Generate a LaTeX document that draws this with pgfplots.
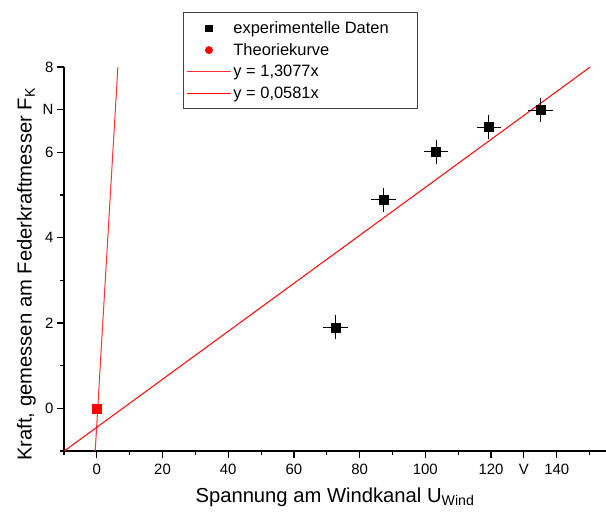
\documentclass[border=0pt]{standalone}
\usepackage{pgfplots}
\pgfplotsset{compat=1.18}
\usepackage{fontspec}
\setmainfont{Liberation Sans}

\begin{document}
\begin{tikzpicture}
  \begin{axis}[
      scale only axis,
      width=542bp, height=384bp,
      xmin=-10, xmax=155,
      ymin=-1, ymax=8,
      axis x line*=bottom,
      axis y line*=left,
      axis line style={-, line width=1.2bp},
      tick align=outside,
      tick style={black, line width=1.2bp},
      major tick length=7bp,
      minor tick length=4bp,
      xtick={0,20,40,60,80,100,120,130,140},
      xticklabels={0,20,40,60,80,100,120,V,140},
      minor xtick={-10,10,30,50,70,90,110,150},
      ytick={0,2,4,6,7,8},
      yticklabels={0,2,4,6,N,8},
      minor ytick={-1,1,3,5},
      /pgf/number format/assume math mode=true,
      tick label style={font=\fontsize{15pt}{18pt}\selectfont},
      xticklabel style={yshift=-3bp},
      xlabel={Spannung am Windkanal U\textsubscript{Wind}},
      ylabel={Kraft, gemessen am Federkraftmesser F\textsubscript{K}},
      label style={font=\fontsize{20.3pt}{24pt}\selectfont},
      xlabel style={yshift=-6bp},
      ylabel style={at={(ticklabel cs:0.46)}},
      legend cell align=left,
      legend style={
        at={(0.2196,1.143)}, anchor=north west,
        draw=black!75, line width=0.8bp,
        font=\fontsize{16.5pt}{19pt}\selectfont,
        row sep=4.5bp, inner xsep=3bp, inner ysep=7bp},
      legend image code/.code={
        \draw[mark repeat=2, mark phase=2, #1]
          plot coordinates {(0bp,0bp) (22bp,0bp) (44bp,0bp)};},
    ]

    \coordinate (bbsw) at (rel axis cs:-0.1181,-0.1641);
    \coordinate (bbne) at (rel axis cs:1.0,1.1745);

    \addlegendimage{only marks, mark=square*, mark size=3.2bp, black}
    \addlegendentry{experimentelle Daten\rule{24bp}{0pt}}
    \addlegendimage{only marks, mark=*, mark size=3.5bp, red}
    \addlegendentry{Theoriekurve}

    % Geraden
    \addplot[red!80, line width=1bp] coordinates {(-0.5,-1) (6.4,8)};
    \addlegendentry{y = 1,3077x}
    \addplot[red, line width=1bp] coordinates {(-9.9,-1) (150.2,8)};
    \addlegendentry{y = 0,0581x}

    % Messwerte
    \addplot[forget plot, only marks, black, mark=square*, mark size=4.5bp,
      error bars/.cd,
        x dir=both, x explicit,
        y dir=both, y explicit,
        error bar style={line width=1bp},
        error mark options={mark size=4bp, line width=1bp}]
      coordinates {
        (72.7, 1.90) +- (2.5, 0.19)
        (87.3, 4.89) +- (2.5, 0.19)
        (103.3, 6.01) +- (2.5, 0.19)
        (119.3, 6.59) +- (2.5, 0.19)
        (135.0, 6.99) +- (2.5, 0.19)
      };

    \addplot[forget plot, only marks, red, mark=square*, mark size=4.5bp]
      coordinates {(0, 0)};

  \end{axis}
  \pgfresetboundingbox
  \path (bbsw) rectangle (bbne);
\end{tikzpicture}
\end{document}
